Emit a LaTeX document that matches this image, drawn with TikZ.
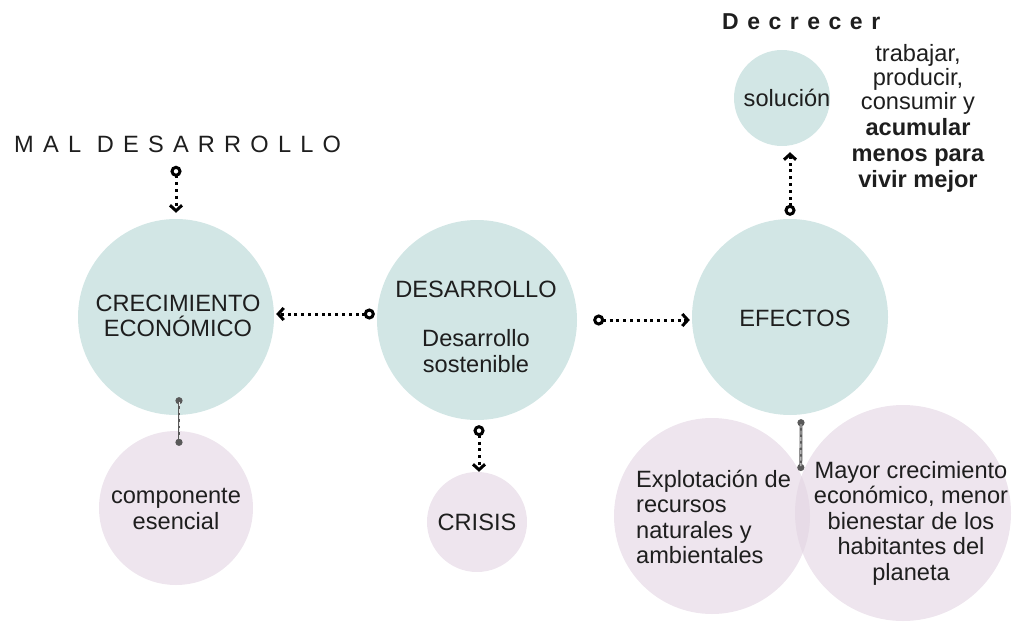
\documentclass[tikz,border=0pt]{standalone}
\usepackage{fontspec}
\setmainfont{Liberation Sans}
\usetikzlibrary{arrows.meta}
\definecolor{tealc}{RGB}{210,230,229}
\definecolor{pinkc}{RGB}{226,212,226}
\definecolor{txt}{RGB}{30,30,30}
\begin{document}
\begin{tikzpicture}[x=1pt,y=-1pt,
  teal/.style={circle,fill=tealc,draw=none,inner sep=0pt},
  pinkball/.style={circle,fill=pinkc,fill opacity=0.6,draw=none,inner sep=0pt},
  lbl/.style={text=txt,font=\fontsize{23.6}{25.5}\selectfont,align=center,inner sep=0pt},
  link/.style={draw=black,line width=3pt,dash pattern=on 3pt off 3.8pt,
    {Circle[open,length=11pt,width=11pt,line width=3pt]}-{Straight Barb[length=5.5pt,width=12pt,line width=3pt]}},
  graylink/.style={draw=gray!70!black,line width=2.8pt,
    {Circle[length=7pt]}-{Circle[length=7pt]},
    postaction={draw=gray!20!white,line width=0.9pt,dash pattern=on 4pt off 2.5pt,-,shorten <=5pt,shorten >=5pt}}
]
\useasboundingbox (0,0) rectangle (1014,623);
% circles
\node[teal,minimum size=196pt] (crec) at (176,317) {};
\node[teal,minimum size=200pt] (des) at (477,320) {};
\node[teal,minimum size=196pt] (efe) at (790,317) {};
\node[teal,minimum size=96pt] (sol) at (782,98) {};
\node[pinkball,minimum size=154pt] (comp) at (176,508) {};
\node[pinkball,minimum size=100pt] (crisis) at (477,522) {};
\node[pinkball,minimum size=196pt] (expl) at (712,516) {};
\node[pinkball,minimum size=216pt] (mayor) at (903,513) {};
% texts
\node[lbl] (tcrec) at (178,316) {CRECIMIENTO\\ECONÓMICO};
\node[lbl] (tdes) at (476,289) {DESARROLLO};
\node[lbl] (tsost) at (476,351) {Desarrollo\\sostenible};
\node[lbl] (tefe) at (795,318) {EFECTOS};
\node[lbl] (tsol) at (787,98) {solución};
\node[lbl] (tcomp) at (176,509) {componente\\esencial};
\node[lbl] (tcrisis) at (477,522) {CRISIS};
\node[lbl,align=left,anchor=west] (texpl) at (636,517) {Explotación de\\recursos\\naturales y\\ambientales};
\node[lbl] (tmayor) at (911,523) {Mayor crecimiento\\económico, menor\\bienestar de los\\habitantes del\\planeta};
\node[lbl,font=\fontsize{23.6}{24}\selectfont] (tdec) at (918,118) {trabajar,\\producir,\\consumir y\\[2pt]\textbf{acumular}\\[2pt]\textbf{menos para}\\[2pt]\textbf{vivir mejor}};
\node[lbl,anchor=base west] (mal) at (14,152) {\addfontfeature{LetterSpace=39}MAL DESARROLLO};
\node[lbl,anchor=base west,font=\fontsize{23}{25}\selectfont\bfseries] (decr) at (722,30) {\addfontfeature{LetterSpace=37}Decrecer};
% connectors
\draw[link] ([yshift=53pt]crec.north) -- ([yshift=6pt]crec.north);
\draw[link] ([xshift=-2pt,yshift=6pt]des.west) -- ([xshift=2pt,yshift=3pt]crec.east);
\draw[link] ([xshift=16pt]des.east) -- ([xshift=-2pt,yshift=-3pt]efe.west);
\draw[link] ([xshift=2pt,yshift=-5pt]des.south) -- ([xshift=2pt]crisis.north);
\draw[link] ([yshift=3pt]efe.north) -- ([xshift=8pt,yshift=-6pt]sol.south);
\draw[graylink] ([xshift=3pt,yshift=18pt]crec.south) -- ([xshift=3pt,yshift=-15pt]comp.north);
\draw[graylink] ([xshift=11pt,yshift=-4pt]efe.south) -- ([xshift=6pt,yshift=42pt]mayor.west);
\end{tikzpicture}
\end{document}
